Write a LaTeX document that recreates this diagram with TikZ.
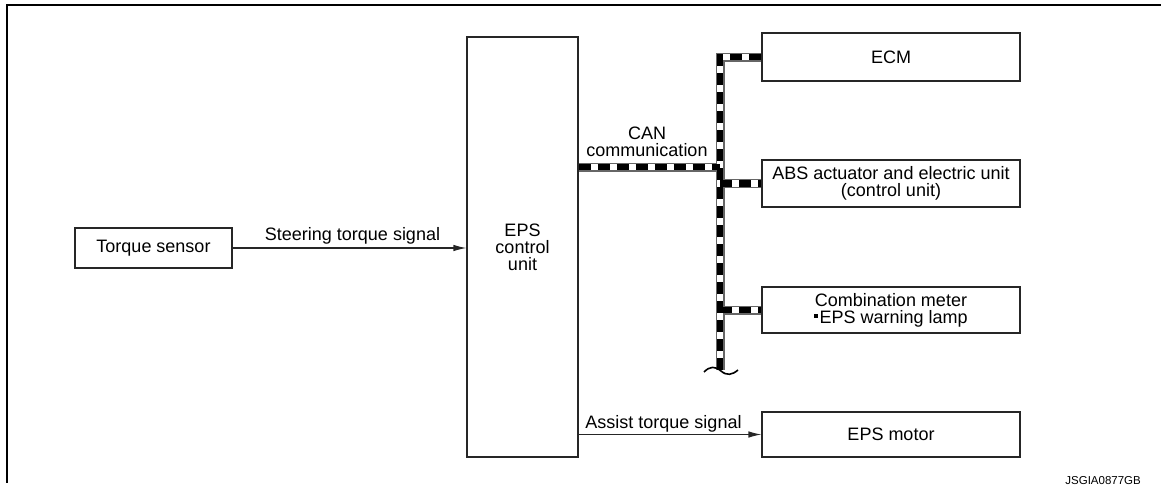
\documentclass[tikz,border=0pt]{standalone}
\usepackage{fontspec}
\setmainfont{Liberation Sans}
\usetikzlibrary{arrows.meta}
\begin{document}
\begin{tikzpicture}[x=1pt,y=-1pt,
  box/.style={draw=black!85, line width=1.1pt, inner sep=0pt, align=center,
    font=\fontsize{18}{16.8}\selectfont},
  lbl/.style={inner sep=0pt, align=center, font=\fontsize{18}{16.8}\selectfont},
  sig/.style={draw=black!85, line width=1.1pt, -{Latex[length=13pt,width=6.5pt]}},
  frame/.style={line width=2.6pt, line cap=rect},
  busout/.style={line width=9pt, draw=black!60},
  busin/.style={line width=6.6pt, draw=white},
  busdash/.style={line width=6.6pt, draw=black, dash pattern=on 12pt off 7pt},
]
\useasboundingbox (0,0) rectangle (1161,490);
% frame
\draw[frame] (7,482) -- (7,5) -- (1162,5);
% boxes
\node[box, minimum width=157pt, minimum height=40pt] (ts) at (153.5,248) {Torque sensor};
\node[box, minimum width=111pt, minimum height=420pt] (eps) at (522.5,247) {EPS\\control\\unit};
\node[box, minimum width=258pt, minimum height=48pt] (ecm) at (891,57) {ECM};
\node[box, minimum width=258pt, minimum height=47pt] (abs) at (891,183.5) {ABS actuator and electric unit\\(control unit)};
\node[box, minimum width=258pt, minimum height=46pt] (cmb) at (891,310) {Combination meter\\\rule[0.3em]{0.22em}{0.22em}\kern0.08em EPS warning lamp};
\node[box, minimum width=258pt, minimum height=45pt] (mot) at (891,434.5) {EPS motor};
% signals
\draw[sig] (ts.east) -- (ts.east -| eps.west);
\node[lbl, anchor=base] (stl) at (352.5,240) {Steering torque signal};
\draw[sig] (mot.west -| eps.east) -- (mot.west);
\node[lbl, anchor=base] (atl) at (663.5,428) {Assist torque signal};
% CAN bus
\coordinate (j) at (720,167);
\coordinate (bend) at (ecm.west -| j);
\coordinate (bot) at (720,370);
\node[lbl, anchor=base] (canl) at (647,156) {CAN\\communication};
\foreach \st in {busout,busin,busdash}{
  \draw[\st] (eps.east |- j) -- (j);
  \draw[\st] (abs.west -| j) -- (abs.west);
  \draw[\st] (cmb.west -| j) -- (cmb.west);
  \draw[\st, line join=miter] (bot) -- (bend) -- (ecm.west);
}
\draw[line width=1.6pt] (704,372) .. controls (710,366) and (715,366) .. (721,371)
  .. controls (727,376) and (732,375) .. (738,370);
% code
\node[inner sep=0pt, anchor=base east, font=\fontsize{11.5}{12}\selectfont] (code) at (1141,484) {JSGIA0877GB};
\end{tikzpicture}
\end{document}
